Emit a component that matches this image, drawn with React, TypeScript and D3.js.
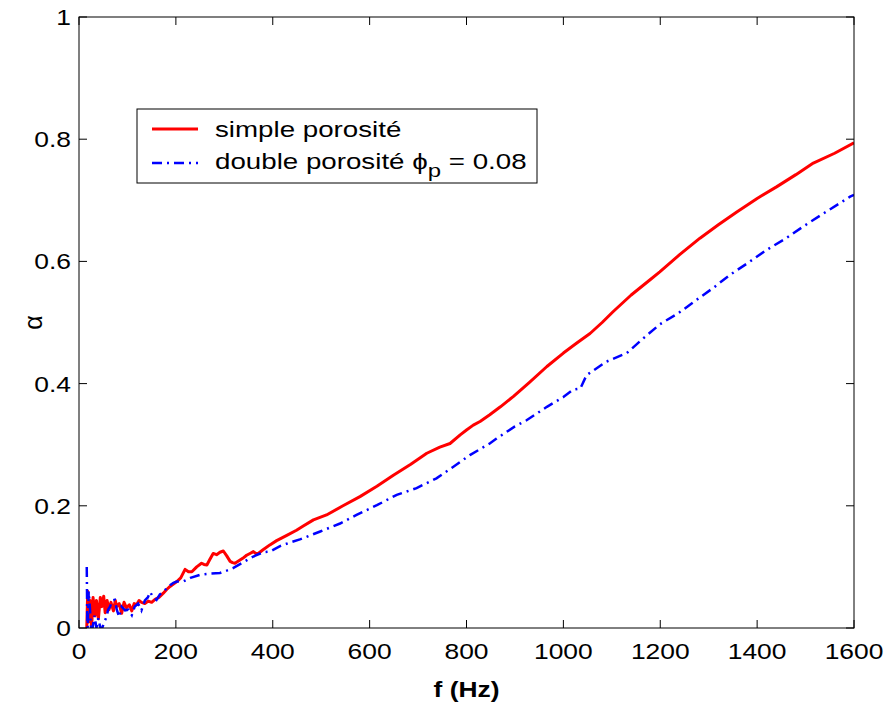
import React from "react";
import * as d3 from "d3";

const fRed = [16,18,20,23,26,29,33,36,40,44,47,51,54,58,62,66,71,75,78,83,88,93,98,104,109,114,119,124,129,136,143,150,157,165,174,181,188,195,202,210,219,226,233,243,253,258,264,270,277,284,291,298,305,312,317,322,330,338,346,353,360,365,370,380,394,408,430,449,463,484,511,545,580,615,649,685,718,745,766,787,800,814,828,848,870,897,930,966,1000,1027,1055,1080,1103,1140,1179,1199,1240,1282,1320,1358,1400,1440,1480,1516,1560,1600];
const aRed = [0.0,0.06,0.01,0.045,0.0,0.05,0.02,0.045,0.015,0.05,0.035,0.052,0.025,0.045,0.03,0.042,0.028,0.045,0.035,0.04,0.024,0.042,0.033,0.038,0.028,0.04,0.038,0.045,0.042,0.04,0.044,0.042,0.047,0.05,0.057,0.063,0.068,0.072,0.076,0.082,0.096,0.092,0.092,0.1,0.106,0.104,0.103,0.112,0.122,0.12,0.124,0.126,0.118,0.109,0.107,0.106,0.11,0.114,0.119,0.122,0.125,0.122,0.122,0.128,0.136,0.143,0.152,0.16,0.167,0.177,0.185,0.2,0.215,0.232,0.25,0.268,0.286,0.296,0.302,0.316,0.324,0.332,0.338,0.349,0.362,0.379,0.402,0.428,0.45,0.466,0.482,0.5,0.518,0.545,0.57,0.583,0.611,0.638,0.66,0.681,0.703,0.722,0.742,0.761,0.777,0.794];

const fBlue = [16,17,18,20,22,25,28,32,36,40,44,48,52,57,60,64,69,74,78,83,88,95,102,109,115,122,129,136,142,147,153,160,167,174,181,188,195,202,215,230,250,270,291,305,318,340,360,380,394,415,436,456,498,539,573,615,656,697,738,773,807,848,862,900,924,966,1000,1020,1035,1048,1089,1131,1165,1199,1237,1275,1310,1344,1380,1420,1460,1495,1540,1592,1600];
const aBlue = [0.10,0.02,0.0,0.06,0.04,0.0,0.0,0.02,0.0,0.016,0.0,0.0,0.01,0.018,0.03,0.035,0.045,0.046,0.03,0.018,0.035,0.029,0.03,0.021,0.035,0.04,0.029,0.045,0.05,0.059,0.05,0.046,0.055,0.059,0.065,0.07,0.074,0.076,0.076,0.082,0.087,0.089,0.09,0.094,0.098,0.108,0.117,0.124,0.125,0.134,0.14,0.145,0.158,0.171,0.185,0.201,0.218,0.229,0.245,0.264,0.283,0.302,0.31,0.33,0.34,0.362,0.378,0.39,0.392,0.414,0.436,0.45,0.474,0.497,0.515,0.537,0.557,0.578,0.597,0.619,0.638,0.657,0.68,0.706,0.709];

const xTicks = [0,200,400,600,800,1000,1200,1400,1600];
const yTicks = [0,0.2,0.4,0.6,0.8,1];
const yTickLabels = ["0","0.2","0.4","0.6","0.8","1"];
const seriesNames = ["simple porosité", "double porosité "];

const W = 886, H = 702;
const L = 79, R = 854, T = 17, B = 628;
const FS = 22;
const SX = 1.2;
const SXL = 1.26;
const FONT = "Liberation Sans, Arial, Helvetica, sans-serif";

function T2({ x, y, anchor = "start", children, size = FS, weight = "normal", rot = 0, sx = SX }: any) {
  return (
    <text
      transform={`translate(${x},${y}) rotate(${rot}) scale(${sx},1)`}
      textAnchor={anchor}
      fontSize={size}
      fontWeight={weight}
      fontFamily={FONT}
      fill="#000"
    >
      {children}
    </text>
  );
}

export default function App() {
  const x = d3.scaleLinear().domain([0, 1600]).range([L, R]);
  const y = d3.scaleLinear().domain([0, 1]).range([B, T]);
  const line = d3.line<[number, number]>().x((d) => x(d[0])).y((d) => y(d[1]));
  const red = line(fRed.map((f, i) => [f, aRed[i]]));
  const blue = line(fBlue.map((f, i) => [f, aBlue[i]]));
  const tk = 8;
  return (
    <div style={{ position: "absolute", left: 0, top: 0 }}>
      <svg width={W} height={H} style={{ display: "block", background: "#fff" }}>
        <defs>
          <clipPath id="plot">
            <rect x={L} y={T} width={R - L} height={B - T} />
          </clipPath>
        </defs>
        <rect x={0} y={0} width={W} height={H} fill="#fff" />
        <g clipPath="url(#plot)">
          <path d={red || ""} fill="none" stroke="#ff0000" strokeWidth={3} strokeLinejoin="round" />
          <path d={blue || ""} fill="none" stroke="#0000ff" strokeWidth={2.5} strokeDasharray="10,5,2,5" />
        </g>
        <rect x={L} y={T} width={R - L} height={B - T} fill="none" stroke="#000" strokeWidth={1} />
        {xTicks.map((t) => (
          <g key={"x" + t}>
            <line x1={x(t)} x2={x(t)} y1={B} y2={B - tk} stroke="#000" />
            <line x1={x(t)} x2={x(t)} y1={T} y2={T + tk} stroke="#000" />
            <T2 x={x(t)} y={B + 31} anchor="middle">{String(t)}</T2>
          </g>
        ))}
        {yTicks.map((t, i) => (
          <g key={"y" + t}>
            <line x1={L} x2={L + tk} y1={y(t)} y2={y(t)} stroke="#000" />
            <line x1={R} x2={R - tk} y1={y(t)} y2={y(t)} stroke="#000" />
            <T2 x={L - 8} y={y(t) + 8} anchor="end">{yTickLabels[i]}</T2>
          </g>
        ))}
        <T2 x={(L + R) / 2} y={697} anchor="middle" weight="bold">f (Hz)</T2>
        <text transform={`translate(42,${(T + B) / 2}) rotate(-90)`} textAnchor="middle" fontSize={25} fontFamily={FONT}>α</text>
        <rect x={137} y={109} width={400} height={74} fill="#fff" stroke="#000" strokeWidth={1} />
        <line x1={152} x2={198} y1={129} y2={129} stroke="#ff0000" strokeWidth={3} />
        <line x1={152} x2={198} y1={163} y2={163} stroke="#0000ff" strokeWidth={2.5} strokeDasharray="10,5,2,5" />
        <T2 x={215} y={137} sx={SXL}>{seriesNames[0]}</T2>
        <text transform={`translate(215,169) scale(${SXL},1)`} fontSize={FS} fontFamily={FONT}>
          {seriesNames[1]}ϕ
          <tspan fontSize={19} dy={8}>p</tspan>
          <tspan dy={-8}> = 0.08</tspan>
        </text>
      </svg>
    </div>
  );
}
